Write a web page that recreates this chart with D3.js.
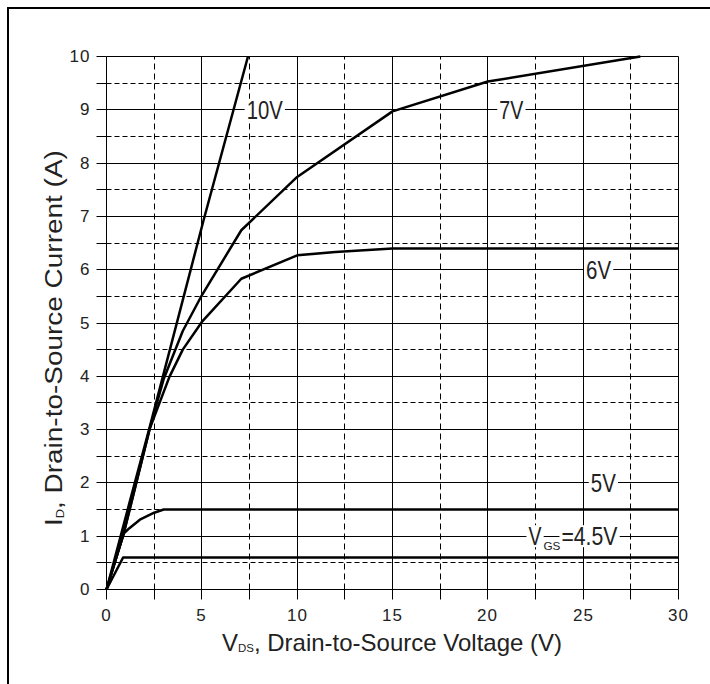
<!DOCTYPE html>
<html>
<head>
<meta charset="utf-8">
<script src="https://cdn.jsdelivr.net/npm/d3@7"></script>
<style>
  body { margin: 0; background: #fff; }
  svg text { font-family: "Liberation Sans", Arial, sans-serif; fill: #222; }
</style>
</head>
<body>
<script>
// output characteristics, VDS (V) vs ID (A)
var vds10 = [0, 1.2, 2.27, 5.07, 7.42];
var id10  = [0, 1.62, 3.05, 6.9, 10];

var vds7 = [0, 0.9, 2.27, 3.0, 4.0, 5.0, 7.07, 10, 15, 20, 28];
var id7  = [0, 1.05, 3.02, 3.95, 4.85, 5.52, 6.74, 7.74, 8.97, 9.53, 10];

var vds6 = [0, 0.9, 2.27, 3.3, 4.0, 5.0, 7.07, 10, 12, 15, 30];
var id6  = [0, 1.05, 3.02, 3.99, 4.5, 5.02, 5.83, 6.27, 6.33, 6.4, 6.4];

var vds5 = [0, 0.9, 1.2, 1.75, 2.5, 3.0, 30];
var id5  = [0, 1.05, 1.15, 1.31, 1.44, 1.5, 1.5];

var vds45 = [0, 0.87, 30];
var id45  = [0, 0.6, 0.6];

var xTicks = [0, 5, 10, 15, 20, 25, 30];
var yTicks = [0, 1, 2, 3, 4, 5, 6, 7, 8, 9, 10];

// curve labels: text, left edge (V), gridline they sit on (A)
var labelText = ["10V", "7V", "6V", "5V"];
var labelVds  = [7.35, 20.6, 25.15, 25.4];
var labelId   = [9, 9, 6, 2];
var labelLen  = [36, 24, 25, 25];

var W = 710, H = 684;

var svg = d3.select("body").append("svg")
    .attr("width", W)
    .attr("height", H);

var x = d3.scaleLinear().domain([0, 30]).range([106.5, 678.5]);
var y = d3.scaleLinear().domain([0, 10]).range([589.5, 56.5]);

// snap to pixel centres so every 1px grid line comes out the same
function px(v) { return Math.round(v - 0.5) + 0.5; }

// outer frame (only top/left fall inside the picture)
svg.append("path")
    .attr("d", "M8," + H + "V8H" + W)
    .attr("fill", "none")
    .attr("stroke", "#000")
    .attr("stroke-width", 2);

// grid
var grid = svg.append("g");
var xs = d3.range(0, 30.01, 2.5);
var ys = d3.range(0, 10.01, 0.5);

grid.selectAll("line.v")
    .data(xs)
  .enter().append("line")
    .attr("class", "v")
    .attr("x1", function(d) { return px(x(d)); })
    .attr("x2", function(d) { return px(x(d)); })
    .attr("y1", px(y(0)))
    .attr("y2", px(y(10)))
    .attr("stroke", "#000")
    .attr("stroke-width", 1)
    .attr("stroke-dasharray", function(d) { return d % 5 === 0 ? null : "6,4"; });

grid.selectAll("line.h")
    .data(ys)
  .enter().append("line")
    .attr("class", "h")
    .attr("x1", px(x(0)))
    .attr("x2", px(x(30)))
    .attr("y1", function(d) { return px(y(d)); })
    .attr("y2", function(d) { return px(y(d)); })
    .attr("stroke", "#000")
    .attr("stroke-width", 1)
    .attr("stroke-dasharray", function(d) { return d % 1 === 0 ? null : "5,3"; });

// axes: ticks at every grid step, labels on the major ones
var yAxis = d3.axisLeft(y)
    .tickValues(ys)
    .tickSize(10)
    .tickPadding(6)
    .tickFormat(function(d) { return yTicks.indexOf(d) >= 0 ? d : ""; });

var xAxis = d3.axisBottom(x)
    .tickValues(xs)
    .tickSize(10)
    .tickPadding(9)
    .tickFormat(function(d) { return xTicks.indexOf(d) >= 0 ? d : ""; });

var gy = svg.append("g").attr("transform", "translate(" + px(x(0)) + ",0)").call(yAxis);
var gx = svg.append("g").attr("transform", "translate(0," + px(y(0)) + ")").call(xAxis);

gy.selectAll(".tick").attr("transform", function(d) { return "translate(0," + px(y(d)) + ")"; });
gx.selectAll(".tick").attr("transform", function(d) { return "translate(" + px(x(d)) + ",0)"; });

[gx, gy].forEach(function(g) {
  g.select(".domain").remove();
  g.selectAll(".tick line").attr("stroke", "#000").attr("stroke-width", 1);
  g.selectAll(".tick text")
      .attr("font-size", 17)
      .attr("fill", "#222")
      .attr("font-family", '"Liberation Sans", Arial, sans-serif')
      .attr("letter-spacing", 1);
});

// curves
var line = d3.line()
    .x(function(d) { return x(d[0]); })
    .y(function(d) { return y(d[1]); });

var curves = [
  d3.zip(vds10, id10),
  d3.zip(vds7, id7),
  d3.zip(vds6, id6),
  d3.zip(vds5, id5),
  d3.zip(vds45, id45)
];

svg.append("g").selectAll("path")
    .data(curves)
  .enter().append("path")
    .attr("d", line)
    .attr("fill", "none")
    .attr("stroke", "#000")
    .attr("stroke-width", 2.5)
    .attr("stroke-linejoin", "round");

// curve labels with a white patch cut out of the grid
var lab = svg.append("g");

function boxedText(str, lx, ly, size, len) {
  var t = lab.append("text")
      .attr("x", lx)
      .attr("y", ly + size * 0.36)
      .attr("font-size", size)
      .attr("textLength", len)
      .attr("lengthAdjust", "spacingAndGlyphs")
      .text(str);
  var b = t.node().getBBox();
  lab.insert("rect", "text")
      .attr("x", b.x - 2)
      .attr("y", b.y + 3)
      .attr("width", b.width + 4)
      .attr("height", b.height - 6)
      .attr("fill", "#fff");
  return t;
}

labelText.forEach(function(s, i) {
  boxedText(s, x(labelVds[i]), y(labelId[i]), 25, labelLen[i]);
});

// VGS=4.5V : subscript hangs below the gridline, so no patch under it
var vx = x(22.13), vy = y(1);
boxedText("V", vx, vy, 25, 13);
lab.append("text")
    .attr("x", vx + 15)
    .attr("y", vy + 14)
    .attr("font-size", 11)
    .attr("textLength", 17)
    .attr("lengthAdjust", "spacingAndGlyphs")
    .text("GS");
boxedText("=4.5V", vx + 33, vy, 25, 56);

// axis titles, squeezed/stretched to the widths in the original
function title(g, parts, target) {
  var t = g.append("text");
  parts.forEach(function(p) {
    t.append("tspan")
        .attr("font-size", p[1])
        .attr("dy", p[2])
        .text(p[0]);
  });
  var w = t.node().getComputedTextLength();
  t.attr("transform", "scale(" + (target / w) + ",1)");
}

var xt = svg.append("g").attr("transform", "translate(222,651)");
title(xt, [["V", 23, 0], ["DS", 11, 1], [", Drain-to-Source Voltage (V)", 23, -1]], 340);

var yt = svg.append("g").attr("transform", "translate(62,526) rotate(-90)");
title(yt, [["I", 24, 0], ["D", 11, 2], [", Drain-to-Source Current (A)", 24, -2]], 376);
</script>
</body>
</html>
